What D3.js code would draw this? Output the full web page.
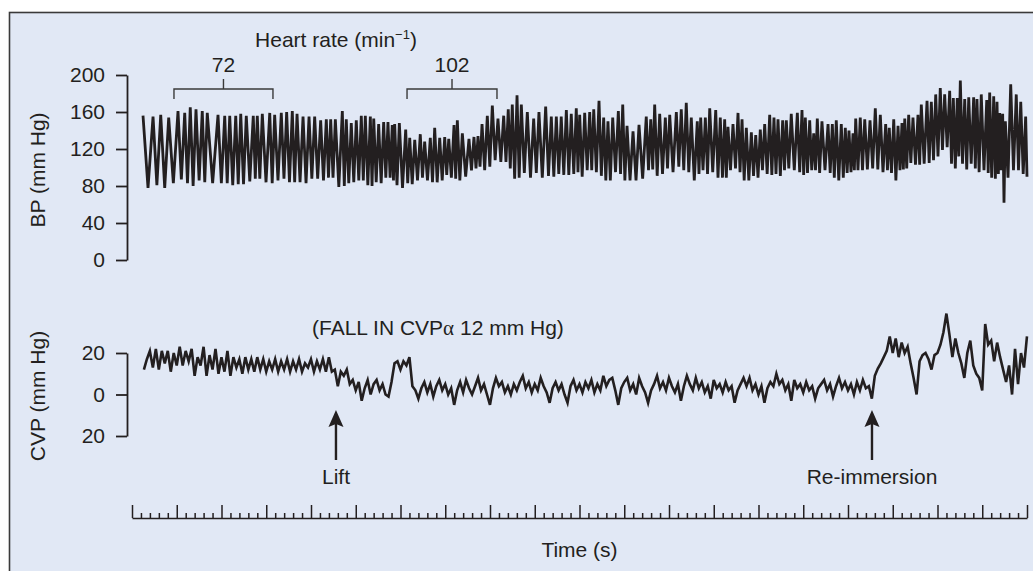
<!DOCTYPE html>
<html>
<head>
<meta charset="utf-8">
<script src="https://cdn.jsdelivr.net/npm/d3@7"></script>
<style>
  body { margin: 0; background: #ffffff; }
  svg { display: block; }
</style>
</head>
<body>
<svg id="chart" width="1033" height="571"></svg>
<script>
// ---- Blood pressure: one entry per heart beat (time of systolic peak, s) ----
const beatTimes = [
  1.23, 2.35, 3.21, 4.10, 5.14, 5.89, 6.51, 7.15, 7.85, 8.41,
  9.61, 10.36, 10.92, 11.59, 12.15, 12.77, 13.55, 14.00, 14.56, 15.39,
  15.94, 16.68, 17.28, 17.91, 18.44, 19.11, 19.78, 20.41, 21.08, 21.71,
  22.20, 22.72, 23.50, 23.94, 24.50, 25.06,
  25.62, 26.07, 26.63, 27.01, 27.56, 28.12, 28.60, 29.08, 29.35, 29.87,
  30.58, 31.03, 31.59, 32.21, 32.70, 33.33, 33.82, 34.38, 34.94, 35.39,
  35.98, 36.35, 36.91, 37.65, 38.21, 38.66, 39.11, 39.70, 40.26, 40.89,
  41.53, 42.04, 42.49, 43.02, 43.50, 44.17, 44.88, 45.47, 46.22, 46.85,
  47.41, 47.96, 48.53, 49.08, 49.64,
  50.02, 50.58, 51.14, 51.59, 52.18, 52.70, 53.18, 53.71, 54.34, 54.83,
  55.31, 55.98, 56.65, 57.46, 57.96, 58.40, 58.96, 59.59, 60.08, 60.82,
  61.37, 61.93, 62.49, 63.16, 63.54, 64.06, 64.55, 65.22, 65.73, 66.22,
  66.59, 67.15, 67.71, 68.16, 68.64, 69.20, 69.69, 70.20, 70.69, 71.25,
  71.73, 72.18, 72.70, 73.11, 73.66, 74.34,
  74.86, 75.23, 75.72, 76.17, 76.57, 77.09, 77.77, 78.25, 78.69, 79.25,
  79.70, 80.11, 80.56, 80.86, 81.37, 81.87, 82.46, 83.05, 83.61, 84.21,
  84.61, 85.11, 85.59, 86.03, 86.34, 86.78, 87.26, 87.82, 88.19, 88.83,
  89.31, 89.80, 90.31, 90.80, 91.36, 91.77, 92.21, 92.55, 93.04, 93.49,
  94.04, 94.41, 94.89, 95.50, 95.83, 96.28, 96.65, 96.95, 97.28, 97.58,
  98.18, 98.80, 99.30, 99.85
];
const systolic = [
  156, 155, 157, 154, 161, 159, 165, 163, 161, 159,
  157, 156, 156, 156, 158, 156, 156, 156, 158, 159,
  157, 159, 160, 161, 158, 155, 155, 155, 151, 152,
  152, 152, 161, 152, 148, 151,
  156, 156, 155, 153, 147, 149, 149, 146, 147, 148,
  141, 132, 130, 136, 128, 132, 143, 132, 133, 131,
  146, 151, 137, 131, 133, 134, 147, 156, 167, 153,
  156, 163, 168, 178, 168, 160, 153, 160, 166, 155,
  155, 155, 162, 158, 164,
  157, 159, 160, 163, 172, 154, 150, 154, 161, 168,
  145, 139, 146, 155, 152, 168, 158, 154, 157, 160,
  163, 170, 154, 150, 154, 154, 164, 162, 154, 152,
  144, 147, 159, 152, 143, 138, 135, 141, 147, 157,
  154, 152, 151, 151, 158, 159,
  162, 154, 151, 137, 153, 150, 147, 147, 151, 147,
  143, 140, 137, 153, 154, 152, 151, 164, 157, 147,
  143, 152, 145, 148, 153, 157, 154, 157, 168, 172,
  171, 179, 186, 179, 183, 175, 175, 194, 174, 176,
  176, 174, 179, 173, 181, 177, 171, 159, 158, 150,
  190, 179, 171, 155
];
const diastolic = [
  78, 81, 78, 83, 87, 83, 80, 86, 84, 83,
  83, 83, 81, 82, 82, 85, 88, 88, 84, 83,
  86, 88, 84, 84, 84, 83, 88, 88, 86, 89,
  89, 79, 80, 83, 84, 86,
  86, 81, 80, 84, 83, 89, 89, 86, 81, 78,
  83, 82, 86, 89, 86, 84, 84, 86, 92, 89,
  88, 86, 90, 97, 99, 101, 97, 101, 108, 106,
  106, 99, 88, 89, 94, 89, 94, 89, 91, 90,
  93, 92, 92, 93, 95,
  90, 97, 97, 95, 91, 86, 86, 95, 93, 86,
  86, 86, 88, 97, 98, 91, 93, 99, 95, 101,
  97, 95, 86, 93, 97, 93, 95, 89, 89, 89,
  97, 99, 95, 86, 86, 91, 89, 97, 93, 92,
  93, 91, 97, 99, 97, 95,
  92, 94, 97, 97, 94, 97, 94, 89, 86, 89,
  94, 95, 97, 97, 97, 98, 99, 98, 95, 97,
  94, 86, 97, 98, 99, 105, 103, 103,
  104, 105, 108, 112, 119, 122, 104, 99, 112, 104, 98, 104,
  99, 95, 97, 94, 89, 88, 93, 97, 62, 89, 97, 97, 93, 90
];
const traceEnd = 100;

// ---- Central venous pressure, sampled every 1/3 s from 1.33 s ----
const cvpStart = 1.33;
const cvpStep = 1 / 3;
const cvpValues = [
  12, 17, 21, 13, 22, 12, 21, 15, 21, 11,
  20, 14, 23, 14, 21, 16, 22, 9, 18, 14,
  23, 9, 19, 12, 22, 10, 18, 11, 21, 9,
  18, 13, 17, 10, 18, 12, 17, 11, 18, 12,
  17, 11, 16, 12, 17, 11, 16, 12, 17, 11,
  16, 12, 17, 11, 15, 13, 17, 11, 16, 12,
  17, 11, 18, 11,
  12, 4, 11, 9, 12, 5, 7, 2, 6, -3,
  3, 7, 0, 5, 7, 2, 5, 0, -1, 6,
  15, 16, 12, 16, 14, 18, 4, 2, -2,
  3, 6, 1, 5, -1, 4, 7, 2, 5, 0,
  3, -5, 2, 6, 1, 7, 3, 0, 4, 8,
  2, 5, 0, -5, 3, 8, 4, 6, 1, 4,
  0, 5, 2, 6, 9, 3, 6, 1, 5, 2,
  8, 4, 1, -4, 3, 6, 2, 5, 0, -4,
  4, 7, 2, 5, 1, 6, 3, 7, 1, 5,
  2, 9, 4, 7, 8, 2, -5, 3, 6, 8,
  2, 5, 0, 8, 4, 1, -4, 2, 5, 9,
  3, 6, 2, 8, 4, 1, 5, -3, 4, 9,
  5, 2, 8, 3, 6, 1, 4, -2, 7, 3,
  5, 1, 6, 2, 4, -4, 2, 5, 8, 4,
  8, 2, 5, 0, 4, -4, 3, 6, 4, 10,
  5, 7, 2, 5, -3, 7, 3, 5, 1, 6,
  2, 4, -2, 3, 5, 7, 2, 5, -1, 4,
  8, 3, 6, 2, 5, 0, 6, 2, 7, 3,
  4, -2,
  9, 12.5, 15, 18, 21, 28, 20, 27, 18, 25,
  20, 23, 15, 8, 0, 16, 19, 20, 17, 12,
  19, 20, 24, 30, 39, 29, 18, 27, 20, 15,
  8, 20, 26, 14, 10, 8, 2, 34, 24, 26,
  16, 25, 18, 12, 6, 14, 0, 22, 5, 20,
  13, 28
];

// ---- Axes and annotations ----
const timeDomain = [0, 100];
const timeMinorTicks = d3.range(0, 101, 1);
const bpTicks = [0, 40, 80, 120, 160, 200];
const cvpTicks = [20, 0, -20];
const cvpTickLabels = ["20", "0", "20"];
const hrGroups = [
  { label: "72", from: 4.69, to: 15.75 },
  { label: "102", from: 30.73, to: 40.78 }
];
const events = [
  { label: "Lift", t: 22.79 },
  { label: "Re-immersion", t: 82.68 }
];

const FONT = "'Liberation Sans', Arial, Helvetica, sans-serif";
const INK = "#231f20";
const FS = 21;

const svg = d3.select("#chart");

// panel
svg.append("rect")
  .attr("x", 9.5).attr("y", 12.5)
  .attr("width", 1040).attr("height", 580)
  .attr("fill", "#e1e8f5")
  .attr("stroke", "#3a3a3a").attr("stroke-width", 1.6);

const x = d3.scaleLinear().domain(timeDomain).range([132, 1027]);
const yBP = d3.scaleLinear().domain([0, 200]).range([260, 75]);
const yCVP = d3.scaleLinear().domain([-20, 20]).range([436, 353]);

function styleAxis(g) {
  g.selectAll("path, line").attr("stroke", INK).attr("stroke-width", 1.8);
  g.selectAll("text")
    .attr("fill", INK)
    .style("font-family", FONT)
    .style("font-size", FS + "px");
}

// BP axis
const gBP = svg.append("g").attr("transform", "translate(127,0)")
  .call(d3.axisLeft(yBP).tickValues(bpTicks).tickSize(11).tickSizeOuter(0).tickPadding(11));
styleAxis(gBP);

// CVP axis
const gCVP = svg.append("g").attr("transform", "translate(127,0)")
  .call(d3.axisLeft(yCVP).tickValues(cvpTicks).tickSize(11).tickSizeOuter(0).tickPadding(11)
    .tickFormat((d, i) => cvpTickLabels[i]));
styleAxis(gCVP);

// time axis: minor tick every second, taller tick every five
const gT = svg.append("g").attr("transform", "translate(0,518)")
  .call(d3.axisTop(x).tickValues(timeMinorTicks).tickSize(5).tickSizeOuter(0).tickFormat(""));
gT.selectAll(".tick line")
  .attr("y2", d => (d % 5 === 0 ? -13 : -5));
gT.selectAll("path, line").attr("stroke", INK).attr("stroke-width", 1.5);

// axis titles
function label(sel) {
  return sel.attr("fill", INK).style("font-family", FONT).style("font-size", FS + "px");
}
label(svg.append("text")
  .attr("transform", "translate(45,170) rotate(-90)")
  .attr("text-anchor", "middle"))
  .text("BP (mm Hg)");
label(svg.append("text")
  .attr("transform", "translate(45,396) rotate(-90)")
  .attr("text-anchor", "middle"))
  .text("CVP (mm Hg)");
label(svg.append("text")
  .attr("x", x(50)).attr("y", 557)
  .attr("text-anchor", "middle"))
  .text("Time (s)");

// BP trace: systolic peaks joined to the following diastolic troughs
const bpPoints = [];
beatTimes.forEach((t, i) => {
  bpPoints.push([t, systolic[i]]);
  const next = i < beatTimes.length - 1 ? (t + beatTimes[i + 1]) / 2 : traceEnd;
  bpPoints.push([next, diastolic[i]]);
});
svg.append("path")
  .datum(bpPoints)
  .attr("fill", "none")
  .attr("stroke", INK)
  .attr("stroke-width", 2.8)
  .attr("stroke-linejoin", "miter")
  .attr("d", d3.line().x(d => x(d[0])).y(d => yBP(d[1])));

// CVP trace
svg.append("path")
  .datum(cvpValues)
  .attr("fill", "none")
  .attr("stroke", INK)
  .attr("stroke-width", 2.6)
  .attr("stroke-linejoin", "miter")
  .attr("d", d3.line().x((d, i) => x(cvpStart + i * cvpStep)).y(d => yCVP(d)));

// heart rate title
const hr = label(svg.append("text")
  .attr("x", 336).attr("y", 47)
  .attr("text-anchor", "middle"));
hr.append("tspan").text("Heart rate (min");
hr.append("tspan").attr("dy", -8).style("font-size", "13px").text("\u22121");
hr.append("tspan").attr("dy", 8).text(")");

// heart rate brackets
hrGroups.forEach(g => {
  const x0 = x(g.from), x1 = x(g.to), xm = (x0 + x1) / 2;
  svg.append("path")
    .attr("fill", "none")
    .attr("stroke", "#3a3a3a")
    .attr("stroke-width", 1.4)
    .attr("d", `M${x0},99V89H${x1}V99M${xm},89V79`);
  label(svg.append("text")
    .attr("x", xm).attr("y", 72)
    .attr("text-anchor", "middle"))
    .text(g.label);
});

// CVP annotation
const note = label(svg.append("text")
  .attr("x", 312).attr("y", 335));
note.append("tspan").text("(FALL IN CVP");
note.append("tspan").style("font-family", "'Liberation Serif', 'DejaVu Serif', serif").text("\u03B1");
note.append("tspan").text(" 12 mm Hg)");

// event arrows
events.forEach(e => {
  const ex = x(e.t);
  svg.append("line")
    .attr("x1", ex).attr("x2", ex)
    .attr("y1", 460).attr("y2", 422)
    .attr("stroke", INK).attr("stroke-width", 2.4);
  svg.append("path")
    .attr("fill", INK)
    .attr("d", `M${ex},410L${ex - 7.5},427L${ex},424L${ex + 7.5},427Z`);
  label(svg.append("text")
    .attr("x", ex).attr("y", 484)
    .attr("text-anchor", "middle"))
    .text(e.label);
});
</script>
</body>
</html>
